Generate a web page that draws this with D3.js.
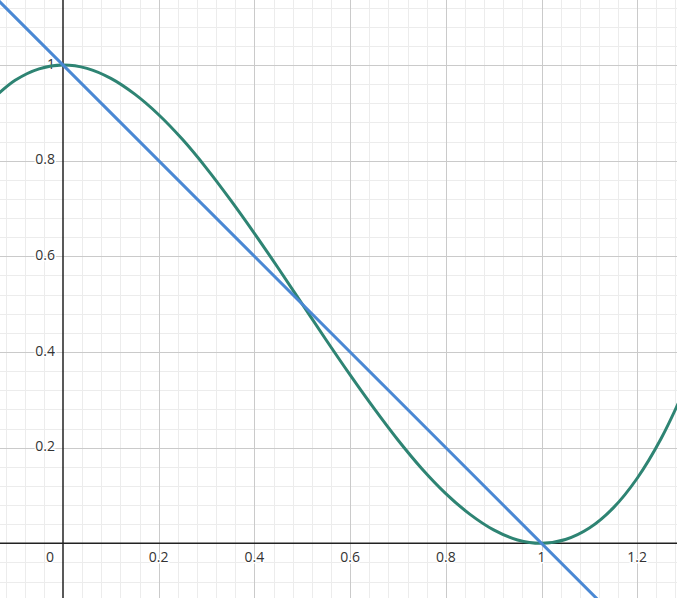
<!DOCTYPE html>
<html>
<head>
<meta charset="utf-8">
<script src="https://cdn.jsdelivr.net/npm/d3@7"></script>
<style>
  html, body { margin: 0; padding: 0; background: #fff; overflow: hidden; }
  svg { display: block; }
  .lbl { font-family: "Open Sans", "Liberation Sans", sans-serif; font-size: 14px; fill: #333;
         stroke: #fff; stroke-width: 3px; paint-order: stroke; stroke-linejoin: round; }
</style>
</head>
<body>
<svg width="677" height="598"></svg>
<script>
// curve
var curveX = [-0.15, -0.1, -0.05, 0, 0.05, 0.1, 0.15, 0.2, 0.25, 0.3, 0.35, 0.4, 0.45, 0.5,
              0.55, 0.6, 0.65, 0.7, 0.75, 0.8, 0.85, 0.9, 0.95, 1.0, 1.05, 1.1, 1.15, 1.2, 1.25, 1.3];
var curveY = [0.926, 0.968, 0.992, 1, 0.993, 0.972, 0.939, 0.896, 0.844, 0.784, 0.718, 0.648, 0.575, 0.5,
              0.425, 0.352, 0.282, 0.216, 0.156, 0.104, 0.061, 0.028, 0.007, 0, 0.008, 0.032, 0.074, 0.136, 0.219, 0.324];
// straight line
var lineX = [-0.2, 1.3];
var lineY = [1.2, -0.3];
// tick labels
var xTicks = [0.2, 0.4, 0.6, 0.8, 1, 1.2];
var yTicks = [0.2, 0.4, 0.6, 0.8, 1];

var W = 677, H = 598;
var svg = d3.select('svg');

var x = d3.scaleLinear().domain([0, 1]).range([63, 541.5]);
var y = d3.scaleLinear().domain([0, 1]).range([543.3, 65]);

var xMin = x.invert(0), xMax = x.invert(W);
var yMin = y.invert(H), yMax = y.invert(0);

// minor grid
var minor = svg.append('g');
d3.range(Math.ceil(xMin / 0.04), Math.floor(xMax / 0.04) + 1).forEach(function (i) {
    if (i % 5 == 0) return;
    var px = Math.round(x(i * 0.04)) + 0.5;
    minor.append('line').attr('x1', px).attr('x2', px).attr('y1', 0).attr('y2', H)
        .attr('stroke', '#ececec').attr('stroke-width', 1);
});
d3.range(Math.ceil(yMin / 0.04), Math.floor(yMax / 0.04) + 1).forEach(function (i) {
    if (i % 5 == 0) return;
    var py = Math.round(y(i * 0.04)) + 0.5;
    minor.append('line').attr('x1', 0).attr('x2', W).attr('y1', py).attr('y2', py)
        .attr('stroke', '#ececec').attr('stroke-width', 1);
});

// major grid
var major = svg.append('g');
d3.range(Math.ceil(xMin / 0.2), Math.floor(xMax / 0.2) + 1).forEach(function (i) {
    if (i == 0) return;
    var px = Math.round(x(i * 0.2)) + 0.5;
    major.append('line').attr('x1', px).attr('x2', px).attr('y1', 0).attr('y2', H)
        .attr('stroke', '#cacaca').attr('stroke-width', 1);
});
d3.range(Math.ceil(yMin / 0.2), Math.floor(yMax / 0.2) + 1).forEach(function (i) {
    if (i == 0) return;
    var py = Math.round(y(i * 0.2)) + 0.5;
    major.append('line').attr('x1', 0).attr('x2', W).attr('y1', py).attr('y2', py)
        .attr('stroke', '#cacaca').attr('stroke-width', 1);
});

// axes
svg.append('line').attr('x1', x(0)).attr('x2', x(0)).attr('y1', 0).attr('y2', H)
    .attr('stroke', '#222').attr('stroke-width', 1.5);
svg.append('line').attr('x1', 0).attr('x2', W).attr('y1', y(0)).attr('y2', y(0))
    .attr('stroke', '#222').attr('stroke-width', 1.5);

// labels
var labels = svg.append('g');
xTicks.forEach(function (t) {
    labels.append('text').attr('class', 'lbl').attr('x', x(t)).attr('y', y(0) + 15)
        .attr('text-anchor', 'middle').attr('dominant-baseline', 'middle').text(d3.format('~g')(t));
});
yTicks.forEach(function (t) {
    labels.append('text').attr('class', 'lbl').attr('x', x(0) - 8).attr('y', y(t))
        .attr('text-anchor', 'end').attr('dominant-baseline', 'middle').text(d3.format('~g')(t));
});
labels.append('text').attr('class', 'lbl').attr('x', x(0) - 9).attr('y', y(0) + 15)
    .attr('text-anchor', 'end').attr('dominant-baseline', 'middle').text('0');

// curves
var gen = d3.line().x(function (d) { return x(d[0]); }).y(function (d) { return y(d[1]); });

svg.append('path').datum(d3.zip(curveX, curveY))
    .attr('d', gen.curve(d3.curveCatmullRom.alpha(0.5)))
    .attr('fill', 'none').attr('stroke', '#2e8473').attr('stroke-width', 3);

svg.append('path').datum(d3.zip(lineX, lineY))
    .attr('d', gen.curve(d3.curveLinear))
    .attr('fill', 'none').attr('stroke', '#4a88d4').attr('stroke-width', 3);
</script>
</body>
</html>
